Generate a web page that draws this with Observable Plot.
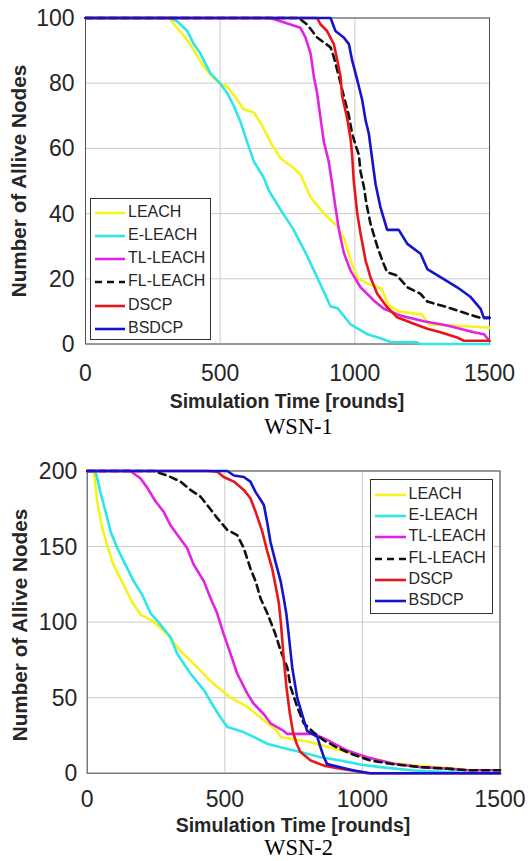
<!DOCTYPE html>
<html>
<head>
<meta charset="utf-8">
<script src="https://cdn.jsdelivr.net/npm/d3@7"></script>
<script src="https://cdn.jsdelivr.net/npm/@observablehq/plot@0.6"></script>
<style>
  html, body { margin: 0; padding: 0; background: #fff; }
  #page { position: relative; width: 529px; height: 861px; overflow: hidden; background: #fff; }
  .chart { position: absolute; left: 0; }
  .lbl { position: absolute; white-space: nowrap; color: #262626; }
  .xlabel { font: bold 19.5px "Liberation Sans", Arial, sans-serif; line-height: 18px; transform: translate(-50%, -50%); }
  .ylabel { font: bold 19.5px "Liberation Sans", Arial, sans-serif; line-height: 18px; transform: translate(-50%, -50%) rotate(-90deg) scaleX(1.06); }
  .caption { font: 22.5px "Liberation Serif", "Times New Roman", serif; line-height: 16px; color: #000; transform: translate(-50%, -50%); }
  .legend { position: absolute; background: #fff; border: 1px solid #333; box-sizing: border-box; }
  .legend .row { position: absolute; left: 0; right: 0; height: 20px; }
  .legend .row svg { position: absolute; top: 0; }
  .legend .row span { position: absolute; top: 0; line-height: 20px; font: 16px "Liberation Sans", Arial, sans-serif; color: #262626; white-space: nowrap; transform: scaleY(1.08); }
</style>
</head>
<body>
<div id="page"></div>
<script>
// Protocol names and line styles
const protocols = ["LEACH", "E-LEACH", "TL-LEACH", "FL-LEACH", "DSCP", "BSDCP"];
const colors = ["#f4f41c", "#2ee6e8", "#e323e3", "#111111", "#e8161a", "#1414cc"];
const dashes = [null, null, null, "7,5", null, null];

// Axis ticks
const roundTicks = [0, 500, 1000, 1500];
const aliveTicks1 = [0, 20, 40, 60, 80, 100];
const aliveTicks2 = [0, 50, 100, 150, 200];

// WSN-1: [round, alive nodes]
const wsn1_LEACH = [[0,100],[309,100],[330,98],[350,96],[380,93],[410,89],[440,85],[470,82],[499,80],[526,79],[563,75],[586,72],[625,71],[656,67],[693,61],[724,57],[773,54],[798,52],[836,45],[886,40],[936,36],[962,32],[987,25],[1012,20],[1062,18],[1099,17],[1124,12],[1162,10],[1250,9],[1275,6],[1400,5.5],[1500,5]];
const wsn1_ELEACH = [[0,100],[316,100],[340,99],[378,96],[402,92],[427,89],[464,83],[499,80],[526,77],[551,73],[576,68],[600,62],[625,56],[662,51],[681,47],[726,41],[773,35],[823,27],[860,20.5],[910,11.5],[936,11],[984,6],[1046,3],[1087,2],[1133,0.6],[1232,0.5],[1240,0],[1500,0]];
const wsn1_TLLEACH = [[0,100],[686,100],[724,99],[761,98],[798,97],[817,94],[836,89],[848,82],[860,77],[873,69],[885,62],[903,56],[916,49],[928,42],[941,35],[959,28],[984,22.5],[1021,17.4],[1071,13.3],[1108,10.8],[1170,8.7],[1256,7],[1343,5.7],[1442,3.6],[1479,3],[1500,1]];
const wsn1_FLLEACH = [[0,100],[792,100],[823,98],[860,94],[910,91],[922,88],[941,82],[959,76],[978,70],[990,64.5],[1003,61],[1015,58],[1021,53],[1034,48],[1043,43],[1058,37],[1083,30],[1102,25.6],[1120,22],[1157,21],[1195,17.4],[1244,15.4],[1269,13],[1343,11.3],[1417,9.3],[1467,8],[1500,8]];
const wsn1_DSCP = [[0,100],[860,100],[873,98],[897,96],[922,92],[935,87],[947,82],[953,76],[972,69],[984,63],[990,58],[996,50],[1009,40],[1021,34],[1040,25.6],[1058,20.5],[1083,15.4],[1120,11.3],[1157,8.2],[1219,6.2],[1269,4.7],[1318,3.6],[1380,2],[1405,1],[1500,1]];
const wsn1_BSDCP = [[0,100],[910,100],[928,96],[959,94],[978,92],[990,87],[1009,81],[1027,75],[1040,68.6],[1052,64.5],[1064,57],[1077,49],[1095,42],[1120,35],[1163,35],[1195,30.7],[1244,27.7],[1269,23],[1318,20.5],[1380,17.4],[1430,14.4],[1467,10.8],[1479,8],[1500,8]];

// WSN-2: [round, alive nodes]
const wsn2_LEACH = [[0,200],[24,200],[36,180],[55,162],[73,151],[91,140],[109,133],[133,124.5],[164,113],[194,105],[236,101],[291,92],[339,81],[400,70],[460,59],[521,50],[581,44],[642,35],[690,28],[703,24],[800,21],[900,16],[1000,11],[1100,7],[1200,5],[1300,3.5],[1400,2],[1500,2]];
const wsn2_ELEACH = [[0,200],[30,200],[48,186],[67,173],[85,160],[109,149],[139,138],[169,127],[200,118],[230,106],[254,101],[303,90],[327,79],[375,66],[424,55],[460,44],[484,37],[509,30.5],[557,28],[605,24],[654,19.5],[727,16],[775,14],[848,10.6],[920,8.4],[993,5.8],[1066,4],[1187,1.8],[1308,0.7],[1400,0],[1500,0]];
const wsn2_TLLEACH = [[0,200],[157,200],[194,195],[218,189],[248,180],[278,173],[303,164],[339,155],[363,149],[387,138],[424,127],[448,116],[472,106],[496,92],[521,79],[545,66],[581,53],[605,46],[642,39],[666,33],[714,28],[727,26],[823,26],[872,22],[945,15],[1017,10.6],[1114,6.2],[1211,4],[1308,3],[1381,2],[1500,2]];
const wsn2_FLLEACH = [[0,200],[242,200],[291,197],[339,193],[375,187.5],[412,183],[436,177.5],[472,169],[509,161],[545,157.6],[569,149],[593,135.5],[612,127],[630,115.6],[654,106],[684,92],[703,81],[727,70],[739,57],[763,44],[787,33],[823,27],[860,21.7],[908,17],[957,13],[1029,8.4],[1102,6.2],[1211,4],[1308,3],[1381,2],[1500,2]];
const wsn2_DSCP = [[0,200],[436,200],[472,199.6],[496,196],[533,193],[569,187.5],[593,182],[612,173],[636,160],[654,147],[672,135.5],[684,124.5],[696,113],[703,101],[709,88],[714,76],[724,57],[736,40],[748,27],[762,19],[775,14],[812,8.4],[860,5],[920,3],[981,1.3],[1017,0],[1500,0]];
const wsn2_BSDCP = [[0,200],[509,200],[533,197],[569,196],[593,193],[612,186],[630,181],[642,177.5],[654,166],[666,153],[684,140],[703,127],[714,116],[724,105],[732,92],[745,70],[763,50],[781,39],[799,28],[836,24],[848,17],[860,10.6],[872,6],[920,4],[969,1.8],[1029,0],[1500,0]];

const wsn1 = [wsn1_LEACH, wsn1_ELEACH, wsn1_TLLEACH, wsn1_FLLEACH, wsn1_DSCP, wsn1_BSDCP];
const wsn2 = [wsn2_LEACH, wsn2_ELEACH, wsn2_TLLEACH, wsn2_FLLEACH, wsn2_DSCP, wsn2_BSDCP];

const page = document.getElementById("page");
const plainNumber = d3.format("d");

function lifetimeChart(series, yMax, yTicks, m) {
  const svg = Plot.plot({
    width: 529,
    height: m.height,
    marginLeft: m.left,
    marginRight: m.right,
    marginTop: m.top,
    marginBottom: m.bottom,
    style: {fontFamily: "'Liberation Sans', Arial, sans-serif", color: "#262626", background: "transparent", overflow: "visible"},
    x: {domain: [0, 1500]},
    y: {domain: [0, yMax]},
    marks: [
      Plot.gridX(roundTicks, {stroke: "#cccccc", strokeOpacity: 1}),
      Plot.gridY(yTicks, {stroke: "#cccccc", strokeOpacity: 1}),
      Plot.frame({stroke: "#4d4d4d", strokeWidth: 1}),
      ...series.map((pts, i) => Plot.line(pts, {
        x: d => d[0], y: d => d[1],
        stroke: colors[i], strokeWidth: 2.6,
        strokeDasharray: dashes[i] || undefined,
        strokeLinejoin: "miter"
      })),
      Plot.axisX(roundTicks, {tickSize: 0, tickPadding: m.xPad, label: null, tickFormat: plainNumber, fontSize: 23, fill: "#262626"}),
      Plot.axisY(yTicks, {tickSize: 0, tickPadding: m.yPad, label: null, tickFormat: plainNumber, fontSize: 23, fill: "#262626"})
    ]
  });
  // slightly taller digits for the tick labels
  svg.querySelectorAll("text").forEach(t => {
    const tr = t.getAttribute("transform");
    if (tr && /^translate\([^)]*\)$/.test(tr.trim())) t.setAttribute("transform", tr + " scale(1,1.08)");
  });
  return svg;
}

function place(el, top) {
  el.classList.add("chart");
  el.style.top = top + "px";
  page.appendChild(el);
}

function label(text, cls, x, y) {
  const d = document.createElement("div");
  d.className = "lbl " + cls;
  d.textContent = text;
  d.style.left = x + "px";
  d.style.top = y + "px";
  page.appendChild(d);
}

function legend(box) {
  const lg = document.createElement("div");
  lg.className = "legend";
  Object.assign(lg.style, {left: box.left + "px", top: box.top + "px", width: box.width + "px", height: box.height + "px"});
  protocols.forEach((name, i) => {
    const row = document.createElement("div");
    row.className = "row";
    row.style.top = (box.first + i * box.step - 10) + "px";
    const w = box.lineEnd;
    row.innerHTML =
      `<svg width="${w}" height="20"><line x1="${box.lineStart}" x2="${w}" y1="10" y2="10" stroke="${colors[i]}" stroke-width="2.6"${dashes[i] ? ` stroke-dasharray="${dashes[i]}"` : ""}/></svg>` +
      `<span style="left:${box.textLeft}px">${name}</span>`;
    lg.appendChild(row);
  });
  page.appendChild(lg);
}

// WSN-1
place(lifetimeChart(wsn1, 100, aliveTicks1, {height: 400, left: 85, right: 40, top: 17.5, bottom: 56.5, xPad: 19, yPad: 11}), 0);
label("Number of Allive Nodes", "ylabel", 19.4, 180.5);
label("Simulation Time [rounds]", "xlabel", 287, 401);
label("WSN-1", "caption", 298.5, 427);
legend({left: 90, top: 198, width: 121, height: 142, first: 13.7, step: 23.2, lineStart: 4, lineEnd: 34, textLeft: 37});

// WSN-2
place(lifetimeChart(wsn2, 200, aliveTicks2, {height: 380, left: 86.7, right: 29.5, top: 30.5, bottom: 47.3, xPad: 15.8, yPad: 10}), 440);
label("Number of Allive Nodes", "ylabel", 19.6, 625);
label("Simulation Time [rounds]", "xlabel", 293, 824.5);
label("WSN-2", "caption", 298.6, 848.3);
legend({left: 370, top: 479.3, width: 123.3, height: 134.5, first: 14.7, step: 21.2, lineStart: 4, lineEnd: 35, textLeft: 37.5});
</script>
</body>
</html>
